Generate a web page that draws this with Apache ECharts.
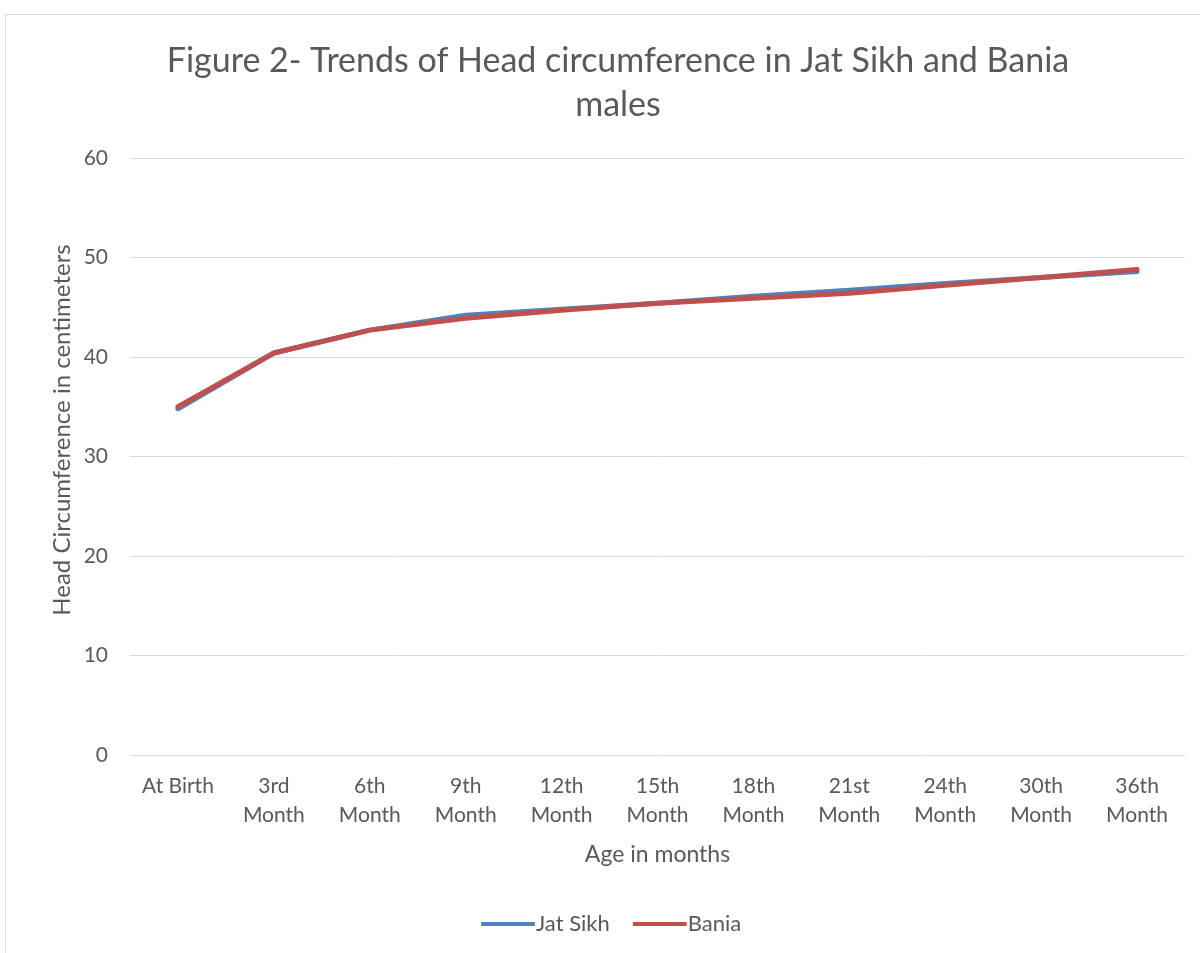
<!DOCTYPE html>
<html>
<head>
<meta charset="utf-8">
<title>Head circumference trends</title>
<script src="https://cdn.jsdelivr.net/npm/echarts@6/dist/echarts.min.js"></script>
<style>
  html, body { margin: 0; padding: 0; background: #fff; }
  #chart { width: 1200px; height: 953px; }
</style>
</head>
<body>
<div id="chart"></div>
<script>
// Age points along the x axis
const ages = ['At Birth', '3rd\nMonth', '6th\nMonth', '9th\nMonth', '12th\nMonth', '15th\nMonth',
              '18th\nMonth', '21st\nMonth', '24th\nMonth', '30th\nMonth', '36th\nMonth'];

// Mean head circumference (cm)
const jatSikh = [34.8, 40.4, 42.7, 44.2, 44.8, 45.4, 46.1, 46.7, 47.4, 48.0, 48.6];
const bania   = [35.0, 40.4, 42.7, 43.9, 44.7, 45.4, 45.9, 46.4, 47.2, 48.0, 48.8];

const FONT = 'Lato, "Open Sans", sans-serif';
const TEXT = '#595959';

const chart = echarts.init(document.getElementById('chart'));
chart.setOption({
  backgroundColor: '#fff',
  animation: false,
  graphic: [
    {
      type: 'rect',
      shape: { x: 5.5, y: 14.5, width: 1200, height: 950 },
      style: { fill: 'none', stroke: '#d9d9d9', lineWidth: 1 },
      silent: true
    },
    {
      // vertical axis title
      type: 'text',
      x: 62, y: 430,
      rotation: Math.PI / 2,
      style: {
        text: 'Head Circumference in centimeters',
        fontFamily: FONT, fontSize: 24, fill: TEXT,
        align: 'center', verticalAlign: 'middle'
      },
      silent: true
    }
  ],
  title: {
    text: 'Figure 2- Trends of Head circumference in Jat Sikh and Bania\nmales',
    left: 613, top: 34, textAlign: 'center',
    textStyle: { fontFamily: FONT, fontSize: 34, fontWeight: 'normal', color: TEXT, lineHeight: 44 }
  },
  legend: {
    bottom: 13, left: 476,
    itemWidth: 54, itemHeight: 4, itemGap: 23,
    icon: 'roundRect',
    textStyle: { fontFamily: FONT, fontSize: 22, color: TEXT, padding: [0, 0, 0, -4] },
    data: ['Jat Sikh', 'Bania']
  },
  grid: { left: 130, right: 15, top: 158, bottom: 198 },
  xAxis: {
    type: 'category',
    data: ages,
    boundaryGap: true,
    name: 'Age in months',
    nameLocation: 'middle',
    nameGap: 88,
    nameTextStyle: { fontFamily: FONT, fontSize: 23, color: TEXT },
    axisLine: { lineStyle: { color: '#d9d9d9' } },
    axisTick: { show: false },
    axisLabel: { fontFamily: FONT, fontSize: 21, color: TEXT, lineHeight: 29, margin: 17, interval: 0 }
  },
  yAxis: {
    type: 'value',
    min: 0, max: 60, interval: 10,
    axisLine: { show: false },
    axisTick: { show: false },
    axisLabel: { fontFamily: FONT, fontSize: 21, color: TEXT, margin: 22 },
    splitLine: { lineStyle: { color: '#d9d9d9', width: 1 } }
  },
  series: [
    {
      name: 'Jat Sikh', type: 'line', data: jatSikh,
      symbol: 'none', color: '#4F81BD',
      lineStyle: { width: 5, cap: 'round', join: 'round' }
    },
    {
      name: 'Bania', type: 'line', data: bania,
      symbol: 'none', color: '#C0504D',
      lineStyle: { width: 5, cap: 'round', join: 'round' }
    }
  ]
});
</script>
</body>
</html>
